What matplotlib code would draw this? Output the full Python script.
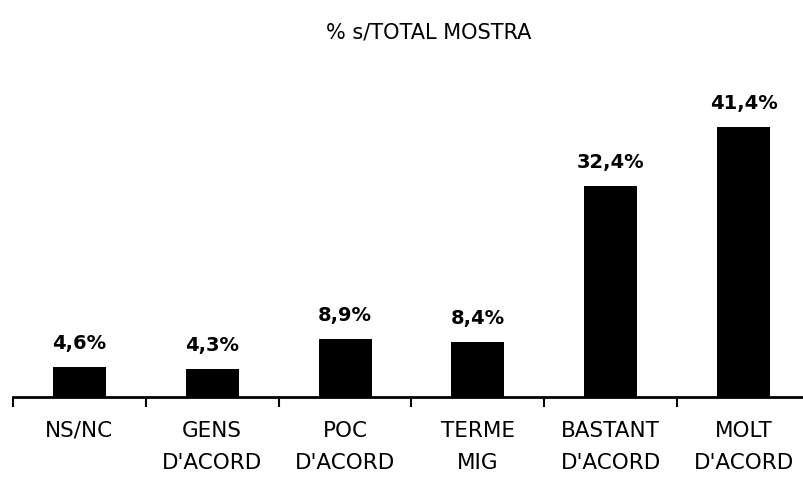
import matplotlib
matplotlib.use("Agg")
import matplotlib.pyplot as plt

# ---------------------------------------------------------------------------
# Data
# ---------------------------------------------------------------------------
categories = ["NS/NC", "GENS\nD'ACORD", "POC\nD'ACORD", "TERME\nMIG",
              "BASTANT\nD'ACORD", "MOLT\nD'ACORD"]
values = [4.6, 4.3, 8.9, 8.4, 32.4, 41.4]
value_labels = ["4,6%", "4,3%", "8,9%", "8,4%", "32,4%", "41,4%"]
title = "% s/TOTAL MOSTRA"

W, H = 804, 478
fig = plt.figure(figsize=(W / 100, H / 100), dpi=100, facecolor="white")

# axes spans 13px .. 810px (right end runs off the picture), baseline at y=397
left, right = 13, 810
bottom, top = 397, 71
ax = fig.add_axes([left / W, (H - bottom) / H, (right - left) / W, (bottom - top) / H])

x = range(len(categories))
ax.bar(x, values, width=0.4, color="black")
ax.set_xlim(-0.5, len(categories) - 0.5)
ax.set_ylim(0, 50)

for xi, v, lab in zip(x, values, value_labels):
    ax.annotate(lab, (xi, v), xytext=(0, 10), textcoords="offset points",
                ha="center", va="bottom", fontsize=14, fontweight="bold")

# category separators as ticks hanging below the baseline
ax.set_xticks([i - 0.5 for i in range(len(categories) + 1)])
ax.set_xticklabels([])
ax.set_xticks(list(x), minor=True)
ax.set_xticklabels(categories, minor=True, fontsize=15.5, linespacing=1.75)
ax.tick_params(axis="x", which="major", direction="out", length=7.5, width=1.5)
ax.tick_params(axis="x", which="minor", length=0, pad=17)

ax.set_yticks([])
for s in ["top", "right", "left"]:
    ax.spines[s].set_visible(False)
ax.spines["bottom"].set_linewidth(2)

fig.text(429 / W, 1 - 33 / H, title, ha="center", va="center", fontsize=15)

fig.savefig("out.png", dpi=100, facecolor="white")
